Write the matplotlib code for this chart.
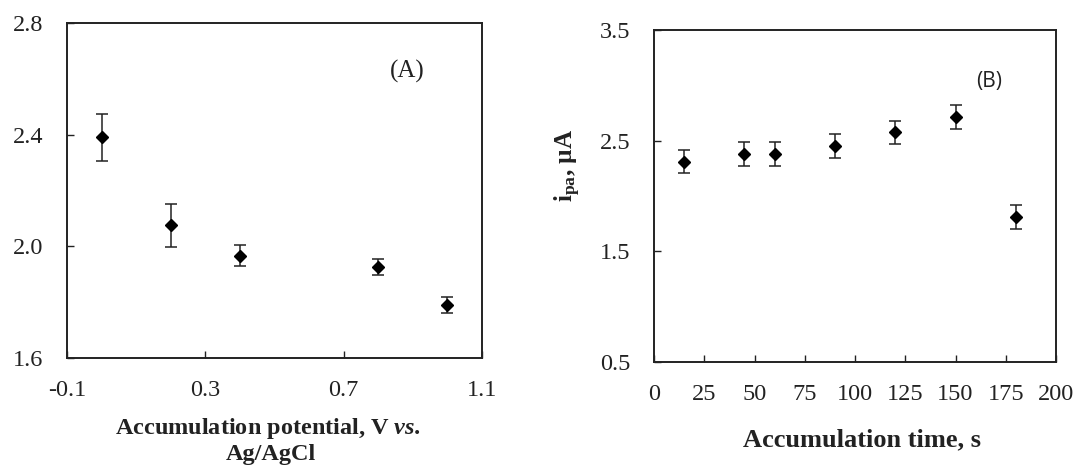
import numpy as np
import matplotlib
matplotlib.use("Agg")
import matplotlib.pyplot as plt

# ------------------------------- Data -------------------------------
POTENTIAL_V = [0.0, 0.2, 0.4, 0.8, 1.0]
CURRENT_A = [2.39, 2.075, 1.967, 1.926, 1.790]
ERR_A = [0.085, 0.077, 0.038, 0.030, 0.030]

TIME_S = [15, 45, 60, 90, 120, 150, 180]
CURRENT_B = [2.311, 2.377, 2.383, 2.455, 2.575, 2.713, 1.812]
ERR_B = [0.107, 0.108, 0.108, 0.107, 0.107, 0.108, 0.107]

XTICKS_A = [-0.1, 0.3, 0.7, 1.1]
YTICKS_A = [1.6, 2.0, 2.4, 2.8]
XTICKS_B = [0, 25, 50, 75, 100, 125, 150, 175, 200]
YTICKS_B = [0.5, 1.5, 2.5, 3.5]
# -----------------------------------------------------------------------------------------

plt.rcParams["font.family"] = "Liberation Serif"
plt.rcParams["mathtext.fontset"] = "custom"
plt.rcParams["mathtext.rm"] = "Liberation Serif"
plt.rcParams["mathtext.it"] = "Liberation Serif:italic"
plt.rcParams["mathtext.bf"] = "Liberation Serif:bold"
plt.rcParams["mathtext.bfit"] = "Liberation Serif:bold:italic"

INK = "#222222"
TICK_FS = 17.5
YLABEL = r"$\mathbf{i}_{\mathbf{pa}}$, µA"


def style_axes(ax, xticks, yticks, fmt):
    ax.set_xlim(xticks[0], xticks[-1])
    ax.set_ylim(yticks[0], yticks[-1])
    ax.set_xticks(xticks)
    ax.set_yticks(yticks)
    ax.set_xticklabels([fmt.format(t) for t in xticks])
    ax.set_yticklabels([f"{t:.1f}" for t in yticks])
    ax.tick_params(axis="both", direction="in", length=5, width=1,
                   color=INK, labelcolor=INK, labelsize=TICK_FS)
    ax.tick_params(axis="x", pad=16)
    ax.tick_params(axis="y", pad=17)
    for s in ax.spines.values():
        s.set_linewidth(1.4)
        s.set_color(INK)


def draw_points(ax, x, y, err):
    ax.errorbar(x, y, yerr=err, fmt="D", color="black", ms=6.3,
                ecolor=INK, elinewidth=1.1, capsize=4.2, capthick=1.1)


fig = plt.figure(figsize=(10.78, 4.69), dpi=100)
ax_a = fig.add_axes([0.0622, 0.2367, 0.385, 0.7143])
ax_b = fig.add_axes([0.6067, 0.2281, 0.3729, 0.7079])

# (A) accumulation potential
draw_points(ax_a, POTENTIAL_V, CURRENT_A, ERR_A)
style_axes(ax_a, XTICKS_A, YTICKS_A, "{:.1f}")
ax_a.set_xlabel("Accumulation potential, V $\\mathbfit{vs.}$ \nAg/AgCl",
                fontsize=17.5, fontweight="bold", color=INK)
ax_a.xaxis.set_label_coords(0.49, -0.172)
# the reference crops this label at the left edge of the image
ax_a.set_ylabel(YLABEL, fontsize=18, fontweight="bold", color=INK)
ax_a.yaxis.set_label_coords(-0.157, 0.5)
ax_a.text(0.819, 0.854, "(A)", transform=ax_a.transAxes, ha="center",
          va="center", fontsize=18, color=INK)

# (B) accumulation time
draw_points(ax_b, TIME_S, CURRENT_B, ERR_B)
style_axes(ax_b, XTICKS_B, YTICKS_B, "{:.0f}")
ax_b.set_xlabel("Accumulation time, s", fontsize=19, fontweight="bold",
                color=INK)
ax_b.xaxis.set_label_coords(0.517, -0.200)
ax_b.set_ylabel(YLABEL, fontsize=18, fontweight="bold", color=INK)
ax_b.yaxis.set_label_coords(-0.177, 0.592)
ax_b.text(0.833, 0.846, "(B)", transform=ax_b.transAxes, ha="center",
          va="center", fontsize=15, family="Open Sans", color=INK)

fig.savefig("out.png", dpi=100)
